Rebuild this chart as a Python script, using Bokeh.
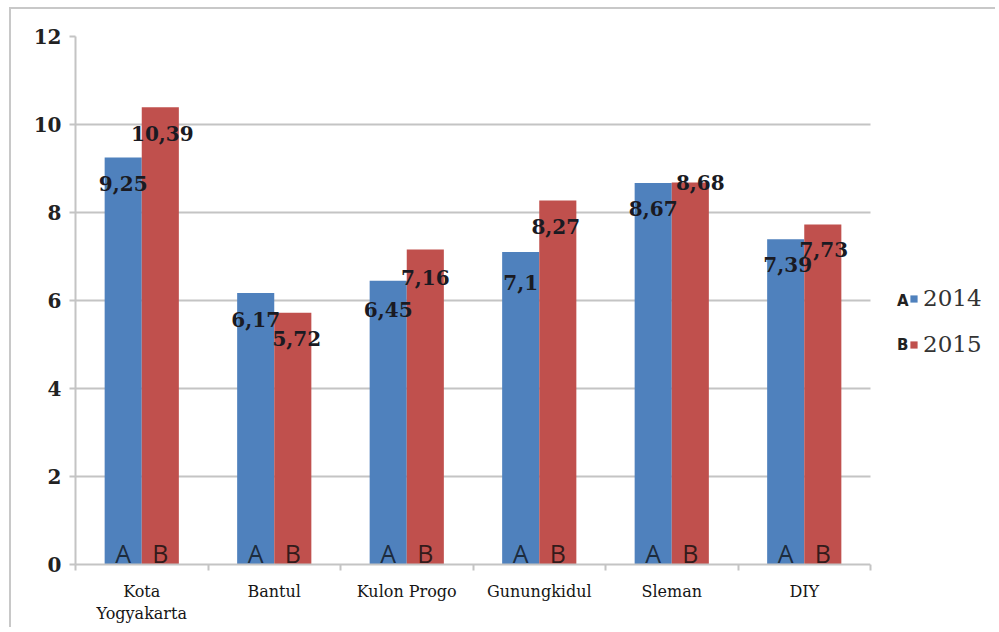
from bokeh.plotting import figure
from bokeh.models import (ColumnDataSource, Range1d, FixedTicker, Legend, LegendItem,
                          BoxAnnotation)
from bokeh.core.properties import value
from bokeh.embed import file_html
from bokeh.resources import INLINE

categories = ["Kota\nYogyakarta", "Bantul", "Kulon Progo", "Gunungkidul", "Sleman", "DIY"]
years = ["2014", "2015"]
values_2014 = [9.25, 6.17, 6.45, 7.1, 8.67, 7.39]
values_2015 = [10.39, 5.72, 7.16, 8.27, 8.68, 7.73]
labels_2014 = ["9,25", "6,17", "6,45", "7,1", "8,67", "7,39"]
labels_2015 = ["10,39", "5,72", "7,16", "8,27", "8,68", "7,73"]
series_letters = ["A", "B"]
y_ticks = [0, 2, 4, 6, 8, 10, 12]

BLUE = "#4f81bd"
RED = "#c0504d"
GRID = "#c4c4c4"
SERIF = value("DejaVu Serif")

# layout (pixels inside the figure)
W, H = 986, 620
LEFT, TOP, BOTTOM = 64, 27, 65
CHART_W = 795                      # width of the category area
n = len(categories)
x_end = n * (W - LEFT) / CHART_W   # extra room on the right for the legend

p = figure(width=W, height=H, output_backend="svg", toolbar_location=None,
           x_range=Range1d(0, x_end), y_range=Range1d(0, 12),
           min_border_left=LEFT, min_border_right=0, min_border_top=TOP,
           min_border_bottom=BOTTOM)
p.styles = {"margin-left": "9px", "margin-top": "7px",
            "border-left": "2px solid #c8c8c8", "border-top": "2px solid #c8c8c8"}
p.outline_line_color = None
p.background_fill_color = "white"
p.border_fill_color = "white"

centers = [i + 0.5 for i in range(n)]
off = 0.14
bw = 0.28

src_a = ColumnDataSource(dict(x=[c - off for c in centers], top=values_2014, lab=labels_2014,
                              dy=[26, 26, 29, 30, 25, 25], dx=[0, 0, 0, 0, 0, 2]))
src_b = ColumnDataSource(dict(x=[c + off for c in centers], top=values_2015, lab=labels_2015,
                              dy=[26, 26, 28, 26, 0, 25], dx=[2, 4, 0, -2, 10, 1]))

ra = p.vbar(x="x", top="top", width=bw, source=src_a, fill_color=BLUE, line_color=None)
rb = p.vbar(x="x", top="top", width=bw, source=src_b, fill_color=RED, line_color=None)

# series letters at the base of bars
p.text(x="x", y=0, text=value("A"), source=src_a, y_offset=-12, text_font=value("Open Sans"),
       text_font_size="25px", text_color="#16202c", text_alpha=0.9,
       text_align="center", text_baseline="middle")
p.text(x="x", y=0, text=value("B"), source=src_b, y_offset=-12, text_font=value("Open Sans"),
       text_font_size="25px", text_color="#1e1414", text_alpha=0.9,
       text_align="center", text_baseline="middle")

# value labels
for src in (src_a, src_b):
    p.text(x="x", y="top", text="lab", source=src, x_offset="dx", y_offset="dy",
           text_font=SERIF, text_font_style="bold", text_font_size="20px",
           text_color="#1a1a22", text_align="center", text_baseline="middle")

# axes
p.yaxis.ticker = FixedTicker(ticks=y_ticks)
p.yaxis.axis_line_color = GRID
p.yaxis.axis_line_width = 2
p.yaxis.major_tick_line_color = GRID
p.yaxis.major_tick_line_width = 2
p.yaxis.major_tick_out = 6
p.yaxis.major_tick_in = 0
p.yaxis.minor_tick_line_color = None
p.yaxis.major_label_text_font = "DejaVu Serif"
p.yaxis.major_label_text_font_style = "bold"
p.yaxis.major_label_text_font_size = "20px"
p.yaxis.major_label_text_color = "#222222"
p.yaxis.major_label_standoff = 8

p.xaxis.ticker = FixedTicker(ticks=centers, minor_ticks=list(range(n + 1)))
p.xaxis.bounds = (0, n)
p.xaxis.major_label_overrides = {c: lab for c, lab in zip(centers, categories)}
p.xaxis.axis_line_color = GRID
p.xaxis.axis_line_width = 2
p.xaxis.major_tick_line_color = None
p.xaxis.minor_tick_line_color = GRID
p.xaxis.minor_tick_line_width = 2
p.xaxis.minor_tick_out = 6
p.xaxis.minor_tick_in = 0
p.xaxis.major_label_text_font = "DejaVu Serif"
p.xaxis.major_label_text_font_size = "16px"
p.xaxis.major_label_text_color = "#151515"
p.xaxis.major_label_standoff = 11

p.xgrid.grid_line_color = None
p.ygrid.grid_line_color = GRID
p.ygrid.grid_line_width = 2

# white panel to the right of the category area (gridlines stop at the last category)
p.add_layout(BoxAnnotation(left=n, fill_color="white", fill_alpha=1, line_color=None))

# legend: series letters, then coloured squares with years
ghost_a = p.vbar(x=[], top=[], width=bw, fill_alpha=0, line_alpha=0)
ghost_b = p.vbar(x=[], top=[], width=bw, fill_alpha=0, line_alpha=0)
legend_letters = Legend(items=[LegendItem(label=series_letters[0], renderers=[ghost_a]),
                               LegendItem(label=series_letters[1], renderers=[ghost_b])],
                        location=(821, 207), glyph_width=1, glyph_height=9, label_standoff=0,
                        spacing=20, padding=0, margin=0, border_line_color=None,
                        background_fill_alpha=0, label_text_font="DejaVu Sans",
                        label_text_font_style="bold", label_text_font_size="15px",
                        label_text_color="#222222", label_height=24)
legend_years = Legend(items=[LegendItem(label=years[0], renderers=[ra]),
                             LegendItem(label=years[1], renderers=[rb])],
                      location=(834, 207), glyph_width=9, glyph_height=9, label_standoff=5,
                      spacing=20, padding=0, margin=0, border_line_color=None,
                      background_fill_alpha=0, label_text_font="DejaVu Serif",
                      label_text_font_size="23px", label_text_color="#333333",
                      label_height=24)
p.add_layout(legend_letters, "center")
p.add_layout(legend_years, "center")

open("out.html", "w").write(file_html(p, INLINE))
